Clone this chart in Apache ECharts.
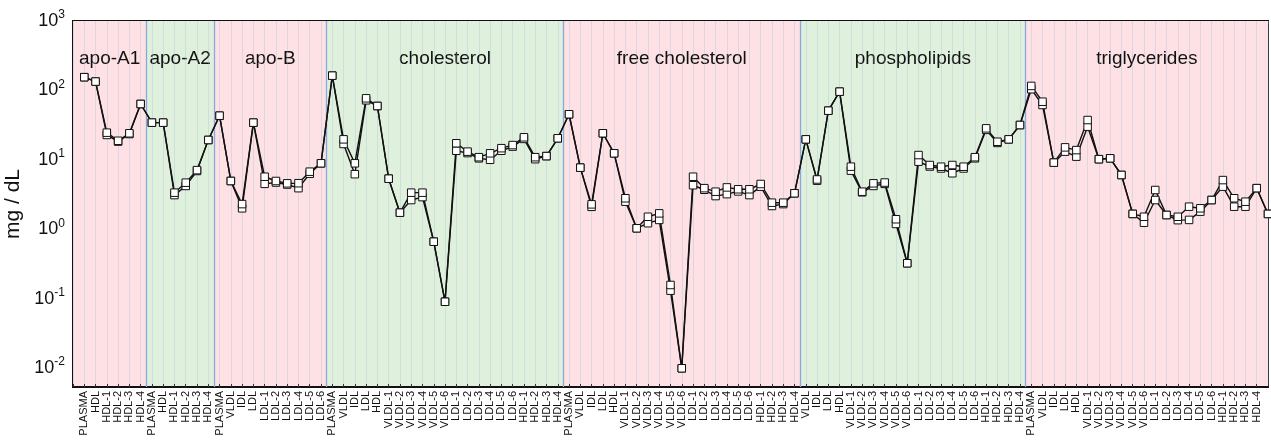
<!DOCTYPE html>
<html><head><meta charset="utf-8">
<script src="https://cdn.jsdelivr.net/npm/echarts@6/dist/echarts.min.js"></script>
<style>html,body{margin:0;padding:0;background:#fff}#c{width:1271px;height:441px}</style>
</head><body><div id="c"></div>
<script>
// ---- categories (tick labels) per group ----
const groupNames = ['apo-A1', 'apo-A2', 'apo-B', 'cholesterol', 'free cholesterol', 'phospholipids', 'triglycerides'];
const labelsApoA1 = ['PLASMA', 'HDL', 'HDL-1', 'HDL-2', 'HDL-3', 'HDL-4'];
const labelsApoA2 = ['PLASMA', 'HDL', 'HDL-1', 'HDL-2', 'HDL-3', 'HDL-4'];
const labelsApoB = ['PLASMA', 'VLDL', 'IDL', 'LDL', 'LDL-1', 'LDL-2', 'LDL-3', 'LDL-4', 'LDL-5', 'LDL-6'];
const labelsChol = ['PLASMA', 'VLDL', 'IDL', 'LDL', 'HDL', 'VLDL-1', 'VLDL-2', 'VLDL-3', 'VLDL-4', 'VLDL-5', 'VLDL-6', 'LDL-1', 'LDL-2', 'LDL-3', 'LDL-4', 'LDL-5', 'LDL-6', 'HDL-1', 'HDL-2', 'HDL-3', 'HDL-4'];
const labelsFree = ['PLASMA', 'VLDL', 'IDL', 'LDL', 'HDL', 'VLDL-1', 'VLDL-2', 'VLDL-3', 'VLDL-4', 'VLDL-5', 'VLDL-6', 'LDL-1', 'LDL-2', 'LDL-3', 'LDL-4', 'LDL-5', 'LDL-6', 'HDL-1', 'HDL-2', 'HDL-3', 'HDL-4'];
const labelsPhos = ['VLDL', 'IDL', 'LDL', 'HDL', 'VLDL-1', 'VLDL-2', 'VLDL-3', 'VLDL-4', 'VLDL-5', 'VLDL-6', 'LDL-1', 'LDL-2', 'LDL-3', 'LDL-4', 'LDL-5', 'LDL-6', 'HDL-1', 'HDL-2', 'HDL-3', 'HDL-4'];
const labelsTrig = ['PLASMA', 'VLDL', 'IDL', 'LDL', 'HDL', 'VLDL-1', 'VLDL-2', 'VLDL-3', 'VLDL-4', 'VLDL-5', 'VLDL-6', 'LDL-1', 'LDL-2', 'LDL-3', 'LDL-4', 'LDL-5', 'LDL-6', 'HDL-1', 'HDL-2', 'HDL-3', 'HDL-4', ''];

// ---- values (mg/dL), two overlapping runs ----
const apoA1_A = [155, 134, 24.6, 18.8, 24.1, 63.7];
const apoA1_B = [155, 134, 22.8, 18.3, 23.5, 63.7];
const apoA2_A = [34.3, 34.3, 3.36, 4.68, 7.1, 19.3];
const apoA2_B = [34.3, 34.3, 3.1, 4.2, 6.9, 19.3];
const apoB_A = [43.2, 4.95, 2.3, 34.3, 5.7, 4.95, 4.58, 4.6, 6.74, 8.9];
const apoB_B = [43.2, 4.95, 2.0, 34.3, 4.5, 4.7, 4.4, 3.9, 6.3, 8.9];
const chol_A = [163, 19.7, 8.9, 76.9, 59.6, 5.34, 1.73, 3.36, 3.36, 0.66, 0.090, 17.3, 13.1, 10.9, 12.4, 14.7, 16.3, 21.1, 10.9, 11.3, 20.4];
const chol_B = [163, 16.9, 6.2, 72, 59.6, 5.34, 1.73, 2.63, 2.9, 0.66, 0.090, 13.5, 12.5, 10.5, 10.0, 13.5, 15.5, 20.0, 10.2, 11.3, 20.4];
const free_A = [45.3, 7.7, 2.28, 24.1, 12.4, 2.79, 1.03, 1.51, 1.69, 0.157, 0.0099, 5.7, 3.9, 3.47, 4.0, 3.76, 3.76, 4.48, 2.41, 2.41, 3.29];
const free_B = [45.3, 7.7, 2.1, 24.1, 12.4, 2.49, 1.03, 1.22, 1.36, 0.13, 0.0099, 4.3, 3.7, 3.0, 3.2, 3.5, 3.1, 4.1, 2.16, 2.3, 3.29];
const phos_A = [19.7, 5.2, 51, 95.9, 7.96, 3.47, 4.58, 4.7, 1.39, 0.323, 11.7, 8.4, 7.95, 8.4, 7.95, 10.9, 28.4, 18.2, 19.7, 31.7];
const phos_B = [19.7, 5.0, 51, 95.9, 6.97, 3.4, 4.2, 4.5, 1.19, 0.323, 9.4, 8.0, 7.5, 6.4, 7.5, 10.5, 27.0, 17.5, 19.7, 31.7];
const trig_A = [116, 68.7, 9.1, 15.1, 13.8, 37.4, 10.2, 10.5, 6.04, 1.66, 1.51, 3.67, 1.6, 1.51, 2.11, 2.0, 2.63, 5.1, 2.79, 2.49, 3.9, 1.66];
const trig_B = [104, 61.6, 9.1, 13.1, 11.1, 30.0, 10.2, 10.5, 6.04, 1.66, 1.24, 2.63, 1.6, 1.35, 1.36, 1.79, 2.63, 4.1, 2.11, 2.11, 3.9, 1.66];

const groupLabels = [labelsApoA1, labelsApoA2, labelsApoB, labelsChol, labelsFree, labelsPhos, labelsTrig];
const runA = [apoA1_A, apoA2_A, apoB_A, chol_A, free_A, phos_A, trig_A];
const runB = [apoA1_B, apoA2_B, apoB_B, chol_B, free_B, phos_B, trig_B];
const bandColors = ['#fde1e4', '#dff0dc'];

// ---- build ----
const categories = [''];
groupLabels.forEach(g => g.forEach(l => categories.push(l)));
const dataA = [null], dataB = [null];
runA.forEach(g => g.forEach(v => dataA.push(v)));
runB.forEach(g => g.forEach(v => dataB.push(v)));
const nMax = categories.length - 1;

const areas = [], lines = [];
let start = 0, pos = 0;
groupLabels.forEach((g, i) => {
  pos += g.length;
  const isLast = i === groupLabels.length - 1;
  const end = isLast ? nMax : pos + 0.5;
  areas.push([{ xAxis: start, name: groupNames[i], itemStyle: { color: bandColors[i % 2] } }, { xAxis: end }]);
  if (!isLast) lines.push({ xAxis: end });
  start = end;
});

const FONT = 'Liberation Sans, Arial, sans-serif';
const lineSeries = (d) => ({
  type: 'line', data: d, xAxisIndex: 0, yAxisIndex: 0, z: 5,
  symbol: 'rect', symbolSize: 7.5, showSymbol: true,
  lineStyle: { color: '#111', width: 1.4 },
  itemStyle: { color: '#fff', borderColor: '#111', borderWidth: 1 },
  connectNulls: false, animation: false, clip: false
});

const chart = echarts.init(document.getElementById('c'), null, { renderer: 'canvas' });
chart.setOption({
  animation: false,
  grid: { left: 73, right: 3, top: 21, bottom: 54, containLabel: false, outerBoundsMode: 'none',
          show: true, borderColor: '#111', borderWidth: 2, backgroundColor: 'transparent' },
  xAxis: [
    { type: 'category', data: categories, boundaryGap: false,
      axisLine: { show: true, lineStyle: { color: '#111', width: 2 } },
      axisTick: { show: true, inside: true, length: 3, interval: 0, lineStyle: { color: '#333' } },
      axisLabel: { interval: 0, rotate: 90, fontSize: 11, color: '#111', margin: 4, fontFamily: FONT, hideOverlap: false },
      splitLine: { show: true, interval: 0, lineStyle: { color: 'rgba(150,180,220,0.28)', width: 1 } }, z: 3 },
    { type: 'value', min: 0, max: nMax, show: false },
    { type: 'category', data: categories, boundaryGap: false, position: 'top',
      axisLine: { show: true, lineStyle: { color: '#111', width: 2 } },
      axisTick: { show: true, inside: true, length: 3, interval: 0, lineStyle: { color: '#333' } },
      axisLabel: { show: false }, splitLine: { show: false } }
  ],
  yAxis: {
    type: 'log', logBase: 10, min: 0.00532, max: 1000,
    name: 'mg / dL', nameLocation: 'middle', nameGap: 48, nameRotate: 90,
    nameTextStyle: { fontSize: 21, color: '#111', fontFamily: FONT },
    axisLine: { show: true, lineStyle: { color: '#111', width: 2 } },
    axisTick: { show: false }, splitLine: { show: false },
    axisLabel: {
      margin: 8, color: '#111', showMinLabel: true,
      formatter: v => { const l = Math.log10(v); const e = Math.round(l); if (Math.abs(l - e) > 1e-6) return ''; return '{b|10}{s|' + e + '}'; },
      rich: { b: { fontSize: 18, color: '#111', fontFamily: FONT },
              s: { fontSize: 12, color: '#111', padding: [0, 0, 12, 0], fontFamily: FONT } }
    }
  },
  series: [
    { type: 'line', data: [], xAxisIndex: 1, yAxisIndex: 0, z: 1, silent: true,
      markArea: { silent: true, data: areas,
        label: { show: true, position: 'insideTop', distance: 28, fontSize: 19, color: '#111', fontFamily: FONT } },
      markLine: { silent: true, symbol: 'none', data: lines, label: { show: false },
        lineStyle: { color: '#8aa8de', width: 1.3, type: 'solid' } } },
    lineSeries(dataB),
    lineSeries(dataA)
  ]
});
</script></body></html>
